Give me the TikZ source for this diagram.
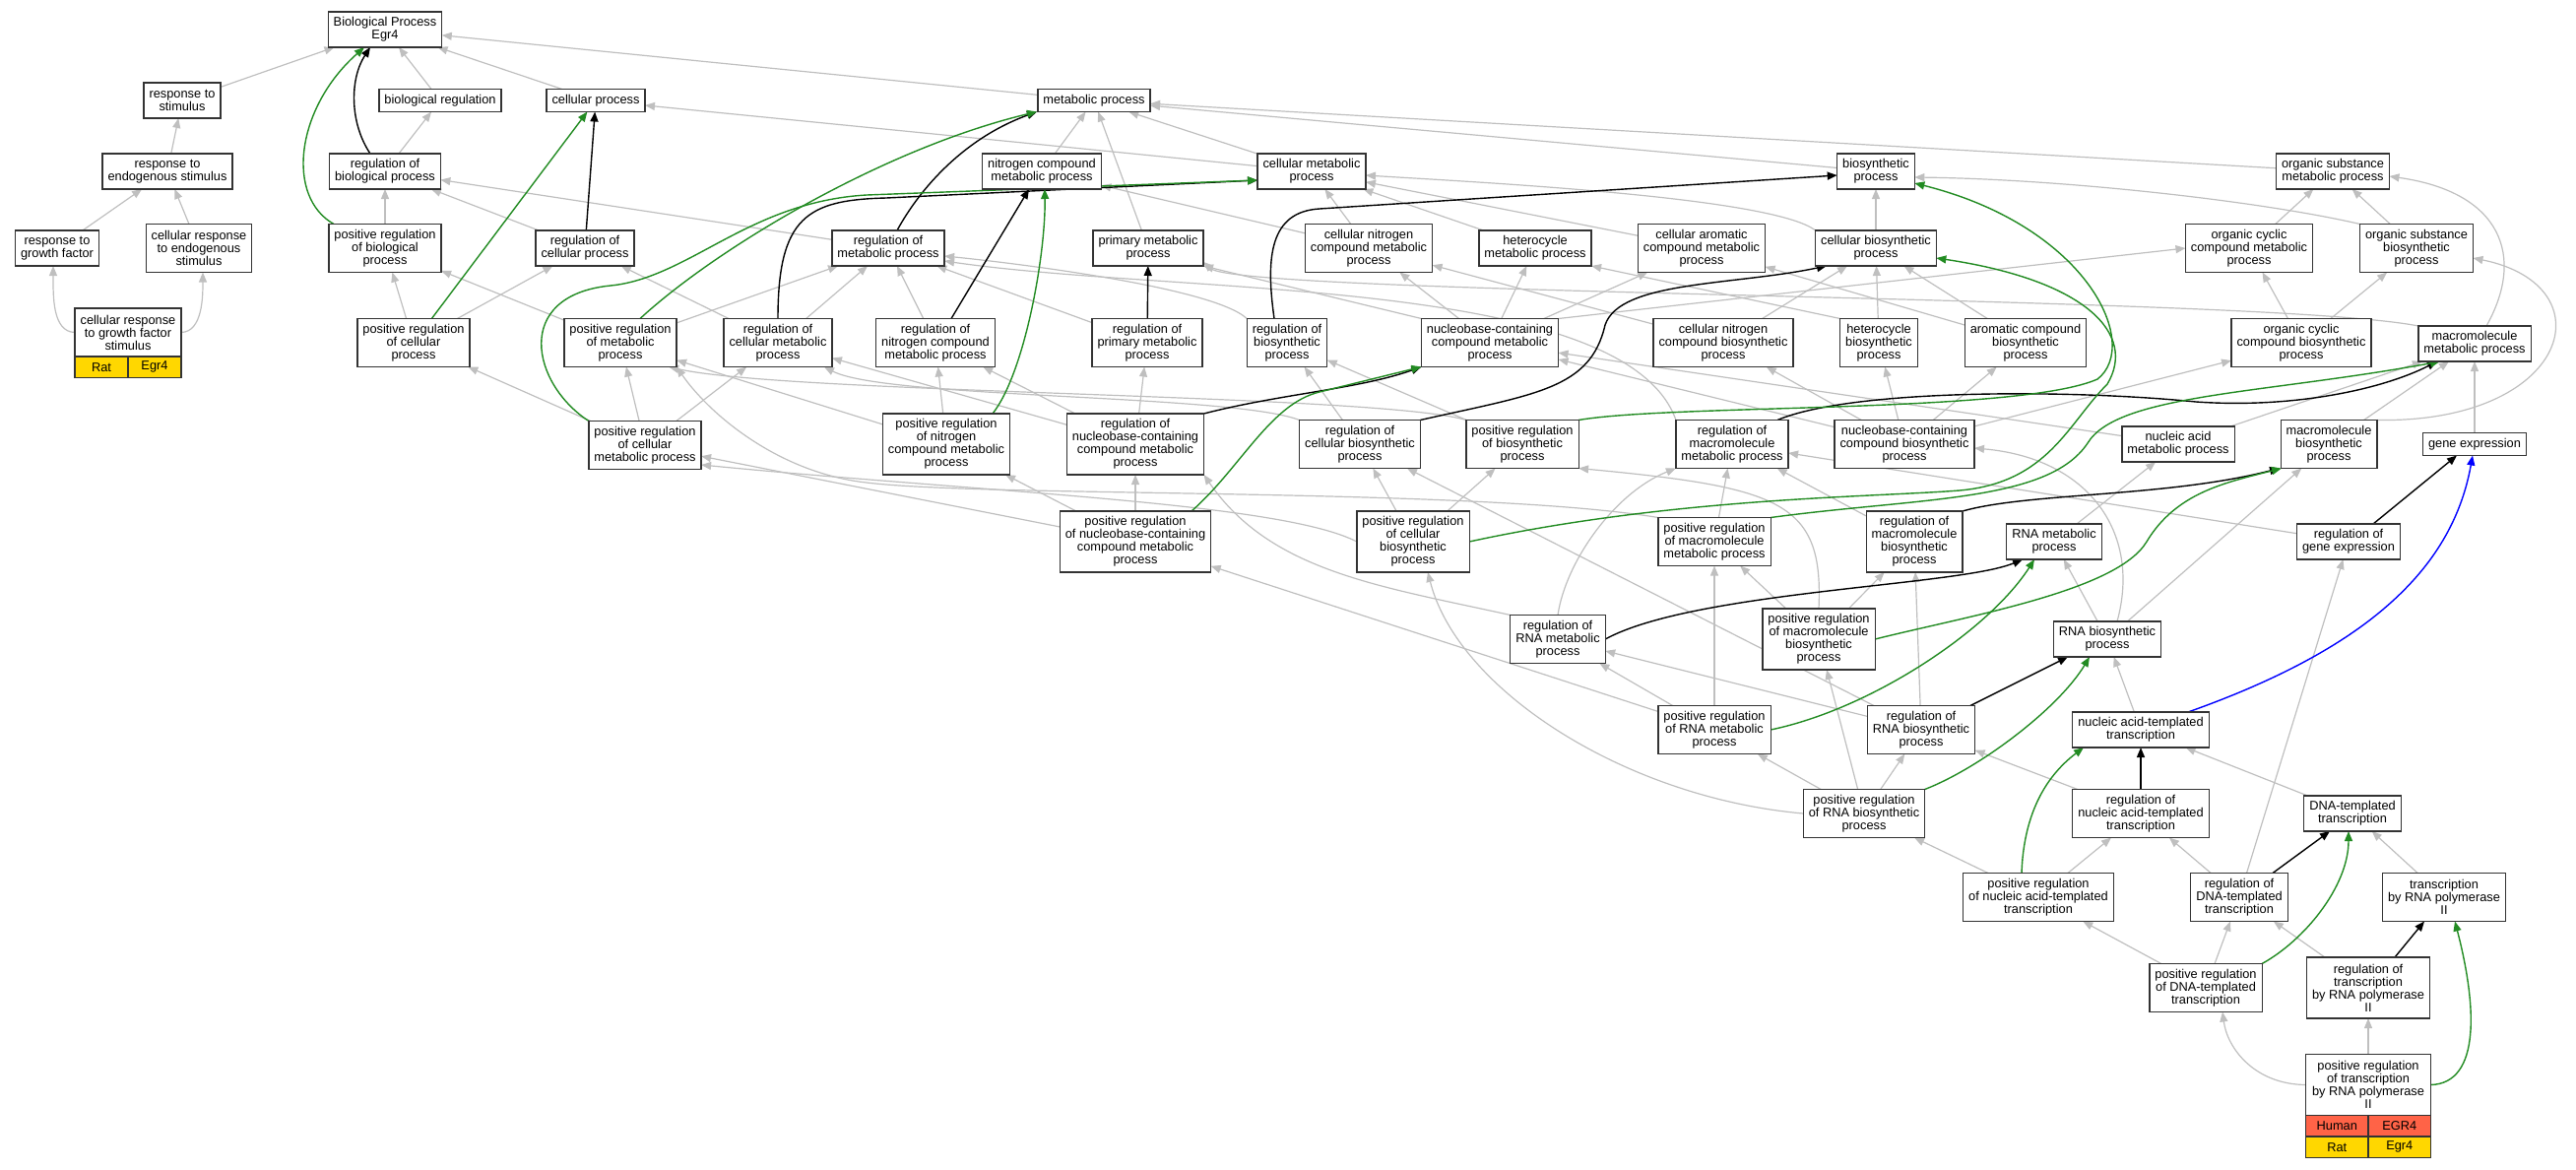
\documentclass[tikz,border=0pt]{standalone}
\usepackage{fontspec}
\setmainfont{Liberation Sans}
\usetikzlibrary{arrows.meta,backgrounds}
\definecolor{isagray}{RGB}{191,191,191}
\definecolor{posgreen}{RGB}{34,139,34}
\definecolor{ratgold}{RGB}{255,215,0}
\definecolor{humanred}{RGB}{255,99,71}
\newcommand{\termfont}{\fontsize{12.8}{13}\selectfont}

\begin{document}
\begin{tikzpicture}[x=1pt,y=-1pt,
  term/.style={draw=black!80,line width=1.2pt,fill=white,align=center,inner xsep=5.5pt,inner ysep=1pt,outer sep=0pt,font=\termfont},
  oneline/.style={term,minimum height=23pt},
  twoline/.style={term,minimum height=36pt},
  threeline/.style={term,minimum height=49pt},
  fourline/.style={term,minimum height=62pt},
  cell/.style={draw=black!80,line width=1.2pt,minimum height=21.5pt,inner sep=0pt,outer sep=0pt,font=\termfont},
  isa/.style={isagray,line width=1.2pt,-{Triangle[length=10pt,width=8pt]}},
  reg/.style={black,line width=1.4pt,-{Triangle[length=10pt,width=8pt]}},
  posreg/.style={posgreen,line width=1.4pt,-{Triangle[length=10pt,width=8pt]}},
  partof/.style={blue,line width=1.4pt,-{Triangle[length=10pt,width=8pt]}}]
\useasboundingbox (0,0) rectangle (2616,1187);
\node[twoline] (bp) at (391,30) {Biological Process\\Egr4};
\node[twoline] (rstim) at (185,102) {response to\\stimulus};
\node[oneline] (bioreg) at (447,102) {biological regulation};
\node[oneline] (cellp) at (605,102) {cellular process};
\node[oneline] (metp) at (1111,102) {metabolic process};
\node[twoline] (rendo) at (170,174) {response to\\endogenous stimulus};
\node[twoline] (regbp) at (391,174) {regulation of\\biological process};
\node[twoline] (ncmp) at (1058,174) {nitrogen compound\\metabolic process};
\node[twoline] (cmp) at (1332,174) {cellular metabolic\\process};
\node[twoline] (bsp) at (1905,174) {biosynthetic\\process};
\node[twoline] (osmp) at (2369,174) {organic substance\\metabolic process};
\node[twoline] (rgf) at (58,252) {response to\\growth factor};
\node[threeline] (credo) at (202,252) {cellular response\\to endogenous\\stimulus};
\node[threeline] (posbp) at (391,252) {positive regulation\\of biological\\process};
\node[twoline] (regcp) at (594,252) {regulation of\\cellular process};
\node[twoline] (regmp) at (902,252) {regulation of\\metabolic process};
\node[twoline] (pmp) at (1166,252) {primary metabolic\\process};
\node[threeline] (cncmp) at (1390,252) {cellular nitrogen\\compound metabolic\\process};
\node[twoline] (hmp) at (1559,252) {heterocycle\\metabolic process};
\node[threeline] (camp) at (1728,252) {cellular aromatic\\compound metabolic\\process};
\node[twoline] (cbsp) at (1905,252) {cellular biosynthetic\\process};
\node[threeline] (occmp) at (2284,252) {organic cyclic\\compound metabolic\\process};
\node[threeline] (osbsp) at (2454,252) {organic substance\\biosynthetic\\process};
\node[threeline,minimum width=108pt] (crgf) at (130,337.5) {cellular response\\to growth factor\\stimulus};
\node[cell,fill=ratgold,minimum width=54pt,anchor=north east] (crgfsp) at (crgf.south) {Rat};
\node[cell,fill=ratgold,minimum width=54pt,anchor=north west] (crgfgn) at (crgf.south) {Egr4};
\node[threeline] (poscp) at (420,348) {positive regulation\\of cellular\\process};
\node[threeline] (posmp) at (630,348) {positive regulation\\of metabolic\\process};
\node[threeline] (regcmp) at (790,348) {regulation of\\cellular metabolic\\process};
\node[threeline] (regncmp) at (950,348) {regulation of\\nitrogen compound\\metabolic process};
\node[threeline] (regpmp) at (1165,348) {regulation of\\primary metabolic\\process};
\node[threeline] (regbsp) at (1307,348) {regulation of\\biosynthetic\\process};
\node[threeline] (nbcmp) at (1513,348) {nucleobase-containing\\compound metabolic\\process};
\node[threeline] (cncbsp) at (1750,348) {cellular nitrogen\\compound biosynthetic\\process};
\node[threeline] (hbsp) at (1908,348) {heterocycle\\biosynthetic\\process};
\node[threeline] (acbsp) at (2057,348) {aromatic compound\\biosynthetic\\process};
\node[threeline] (occbsp) at (2337,348) {organic cyclic\\compound biosynthetic\\process};
\node[twoline] (macmp) at (2513,349) {macromolecule\\metabolic process};
\node[threeline] (poscmp) at (655,452) {positive regulation\\of cellular\\metabolic process};
\node[fourline] (posncmp) at (961,451) {positive regulation\\of nitrogen\\compound metabolic\\process};
\node[fourline] (regnbcmp) at (1153,451) {regulation of\\nucleobase-containing\\compound metabolic\\process};
\node[threeline] (regcbsp) at (1381,451) {regulation of\\cellular biosynthetic\\process};
\node[threeline] (posbsp) at (1546,451) {positive regulation\\of biosynthetic\\process};
\node[threeline] (regmmp) at (1759,451) {regulation of\\macromolecule\\metabolic process};
\node[threeline] (nbcbsp) at (1934,451) {nucleobase-containing\\compound biosynthetic\\process};
\node[twoline] (namp) at (2212,451) {nucleic acid\\metabolic process};
\node[threeline] (mbsp) at (2365,451) {macromolecule\\biosynthetic\\process};
\node[oneline] (gexp) at (2513,451) {gene expression};
\node[fourline] (posnbcmp) at (1153,550) {positive regulation\\of nucleobase-containing\\compound metabolic\\process};
\node[fourline] (poscbsp) at (1435,550) {positive regulation\\of cellular\\biosynthetic\\process};
\node[threeline] (posmmp) at (1741,550) {positive regulation\\of macromolecule\\metabolic process};
\node[fourline] (regmbsp) at (1944,550) {regulation of\\macromolecule\\biosynthetic\\process};
\node[twoline] (rmp) at (2086,550) {RNA metabolic\\process};
\node[twoline] (reggexp) at (2385,550) {regulation of\\gene expression};
\node[threeline] (regrmp) at (1582,649) {regulation of\\RNA metabolic\\process};
\node[fourline] (posmbsp) at (1847,649) {positive regulation\\of macromolecule\\biosynthetic\\process};
\node[twoline] (rbsp) at (2140,649) {RNA biosynthetic\\process};
\node[threeline] (posrmp) at (1741,741) {positive regulation\\of RNA metabolic\\process};
\node[threeline] (regrbsp) at (1951,741) {regulation of\\RNA biosynthetic\\process};
\node[twoline] (natt) at (2174,741) {nucleic acid-templated\\transcription};
\node[threeline] (posrbsp) at (1893,826) {positive regulation\\of RNA biosynthetic\\process};
\node[threeline] (regnatt) at (2174,826) {regulation of\\nucleic acid-templated\\transcription};
\node[twoline] (dtt) at (2389,826) {DNA-templated\\transcription};
\node[threeline] (posnatt) at (2070,911) {positive regulation\\of nucleic acid-templated\\transcription};
\node[threeline] (regdtt) at (2274,911) {regulation of\\DNA-templated\\transcription};
\node[threeline] (trp2) at (2482,911) {transcription\\by RNA polymerase\\II};
\node[threeline] (posdtt) at (2240,1003) {positive regulation\\of DNA-templated\\transcription};
\node[fourline] (regtrp2) at (2405,1003) {regulation of\\transcription\\by RNA polymerase\\II};
\node[fourline,minimum width=127pt] (postrp2) at (2405,1101.5) {positive regulation\\of transcription\\by RNA polymerase\\II};
\node[cell,fill=humanred,minimum width=63.5pt,anchor=north east] (postrp2hs) at (postrp2.south) {Human};
\node[cell,fill=humanred,minimum width=63.5pt,anchor=north west] (postrp2hg) at (postrp2.south) {EGR4};
\node[cell,fill=ratgold,minimum width=63.5pt,anchor=north east] (postrp2rs) at (postrp2hs.south east) {Rat};
\node[cell,fill=ratgold,minimum width=63.5pt,anchor=north west] (postrp2rg) at (postrp2hg.south west) {Egr4};
\begin{scope}[on background layer]
\draw[isa] (rstim) -- (bp);
\draw[isa] (bioreg) -- (bp);
\draw[isa] (cellp) -- (bp);
\draw[isa] (metp) -- (bp);
\draw[isa] (rendo) -- (rstim);
\draw[isa] (rgf) -- (rendo);
\draw[isa] (credo) -- (rendo);
\draw[isa] (crgf.west) .. controls (53,337) and (54,300) .. ([xshift=-4pt]rgf.south);
\draw[isa] (crgf.east) .. controls (206,337) and (206,300) .. ([xshift=4pt]credo.south);
\draw[isa] (regbp) -- (bioreg);
\draw[isa] (posbp) -- (regbp);
\draw[isa] (regcp) -- (regbp);
\draw[isa] (regmp) -- (regbp);
\draw[isa] (poscp) -- (posbp);
\draw[isa] (posmp) -- (posbp);
\draw[isa] (poscp) -- (regcp);
\draw[isa] (regcmp) -- (regcp);
\draw[isa] (cmp) -- (cellp);
\draw[isa] (ncmp) -- (metp);
\draw[isa] (pmp) -- (metp);
\draw[isa] (cmp) -- (metp);
\draw[isa] (bsp) -- (metp);
\draw[isa] (osmp) -- (metp);
\draw[isa] (posmp) -- (regmp);
\draw[isa] (regcmp) -- (regmp);
\draw[isa] (regncmp) -- (regmp);
\draw[isa] (regpmp) -- (regmp);
\draw[isa] (regbsp.north west) .. controls (1230,290) and (1010,265) .. ([yshift=-8pt]regmp.east);
\draw[isa] (regmmp.north west) .. controls (1650,280) and (1200,300) .. ([yshift=-13pt]regmp.east);
\draw[isa] (poscmp) -- (poscp);
\draw[isa] (poscmp) -- (posmp);
\draw[isa] (poscmp) -- (regcmp);
\draw[isa] (posncmp) -- (regncmp);
\draw[isa] (posncmp) -- (posmp);
\draw[isa] (posnbcmp) -- (regnbcmp);
\draw[isa] (posnbcmp) -- (posncmp);
\draw[isa] (posnbcmp) -- (poscmp);
\draw[isa] (regnbcmp) -- (regcmp);
\draw[isa] (regnbcmp) -- (regncmp);
\draw[isa] (regnbcmp) -- (regpmp);
\draw[isa] (regcbsp) -- (regbsp);
\draw[isa] (regcbsp.north west) .. controls (1250,400) and (900,405) .. ([xshift=-8pt]regcmp.south east);
\draw[isa] (posbsp) -- (regbsp);
\draw[isa] (posbsp.north west) .. controls (1400,400) and (800,400) .. ([xshift=-8pt]posmp.south east);
\draw[isa] (poscbsp) -- (regcbsp);
\draw[isa] (poscbsp) -- (posbsp);
\draw[isa] (poscbsp.west) .. controls (1300,510) and (1000,500) .. ([yshift=-20pt]poscmp.east);
\draw[isa] (posmmp) -- (regmmp);
\draw[isa] (posmmp.north west) .. controls (1500,495) and (1000,505) .. (880,490) .. controls (790,480) and (720,420) .. (posmp.south east);
\draw[isa] (regmbsp) -- (regmmp);
\draw[isa] (posmbsp) -- (posmmp);
\draw[isa] (posmbsp) -- (regmbsp);
\draw[isa] (posmbsp.north) .. controls (1852,510) and (1810,495) .. (posbsp.south east);
\draw[isa] (regrmp.north west) .. controls (1400,595) and (1290,580) .. (regnbcmp.south east);
\draw[isa] (regrmp.north) .. controls (1590,570) and (1640,500) .. (regmmp.south west);
\draw[isa] (posrmp) -- (regrmp);
\draw[isa] (posrmp) -- (posmmp);
\draw[isa] (posrmp) -- (posnbcmp);
\draw[isa] (regrbsp) -- (regrmp);
\draw[isa] (regrbsp) -- (regmbsp);
\draw[isa] (regrbsp) -- (regcbsp);
\draw[isa] (posrbsp) -- (posrmp);
\draw[isa] (posrbsp) -- (regrbsp);
\draw[isa] (posrbsp) -- (posmbsp);
\draw[isa] (posrbsp.west) .. controls (1650,810) and (1480,700) .. ([xshift=15pt]poscbsp.south);
\draw[isa] (regnatt) -- (regrbsp);
\draw[isa] (posnatt) -- (posrbsp);
\draw[isa] (posnatt) -- (regnatt);
\draw[isa] (regdtt) -- (regnatt);
\draw[isa] (regdtt) -- (reggexp);
\draw[isa] (posdtt) -- (posnatt);
\draw[isa] (posdtt) -- (regdtt);
\draw[isa] (regtrp2) -- (regdtt);
\draw[isa] (postrp2.west) .. controls (2290,1101) and (2262,1065) .. ([xshift=17pt]posdtt.south);
\draw[isa] (postrp2) -- (regtrp2);
\draw[isa] (trp2) -- (dtt);
\draw[isa] (dtt) -- (natt);
\draw[isa] (natt) -- (rbsp);
\draw[isa] (rbsp) -- (rmp);
\draw[isa] (rbsp) -- (mbsp);
\draw[isa] ([xshift=10pt]rbsp.north) .. controls (2175,540) and (2120,465) .. ([yshift=-4pt]nbcbsp.east);
\draw[isa] (rmp) -- (namp);
\draw[isa] (namp) -- (nbcmp);
\draw[isa] (namp) -- (macmp);
\draw[isa] (mbsp) -- (macmp);
\draw[isa] (mbsp.north east) .. controls (2610,430) and (2650,290) .. ([yshift=-10pt]osbsp.east);
\draw[isa] (gexp) -- (macmp);
\draw[isa] ([xshift=12pt]macmp.north) .. controls (2565,260) and (2540,195) .. ([yshift=-5pt]osmp.east);
\draw[isa] (macmp.north west) .. controls (2300,300) and (1260,300) .. ([yshift=-14pt]pmp.east);
\draw[isa] (nbcbsp) -- (nbcmp);
\draw[isa] (nbcbsp) -- (cncbsp);
\draw[isa] (nbcbsp) -- (hbsp);
\draw[isa] (nbcbsp) -- (acbsp);
\draw[isa] (nbcbsp) -- (occbsp);
\draw[isa] (nbcmp.north west) -- (pmp.south east);
\draw[isa] (nbcmp) -- (cncmp);
\draw[isa] (nbcmp) -- (hmp);
\draw[isa] (nbcmp) -- (camp);
\draw[isa] (nbcmp.north east) -- (occmp.west);
\draw[isa] (cncbsp) -- (cncmp);
\draw[isa] (cncbsp) -- (cbsp);
\draw[isa] (hbsp.north west) -- (hmp.south east);
\draw[isa] (hbsp) -- (cbsp);
\draw[isa] (acbsp) -- (camp);
\draw[isa] (acbsp) -- (cbsp);
\draw[isa] (occbsp) -- (occmp);
\draw[isa] (occbsp) -- (osbsp);
\draw[isa] (cncmp) -- (cmp);
\draw[isa] (cncmp) -- (ncmp);
\draw[isa] (hmp) -- (cmp);
\draw[isa] (camp) -- (cmp);
\draw[isa] (cbsp.north west) .. controls (1800,200) and (1500,185) .. ([yshift=-4pt]cmp.east);
\draw[isa] (cbsp) -- (bsp);
\draw[isa] (occmp) -- (osmp);
\draw[isa] (osbsp) -- (osmp);
\draw[isa] (osbsp.north west) .. controls (2300,205) and (2100,182) .. ([yshift=-6pt]bsp.east);
\draw[isa] (reggexp) -- (regmmp);
\draw[reg] ([xshift=-15pt]regbp.north) .. controls (355,125) and (355,80) .. ([xshift=-15pt]bp.south);
\draw[reg] (regcp) -- (cellp);
\draw[reg] ([xshift=9pt]regmp.north) .. controls (935,190) and (980,140) .. ([xshift=-58pt]metp.south);
\draw[reg] ([xshift=16pt]regncmp.north) -- ([xshift=-13pt]ncmp.south);
\draw[reg] (regcmp.north) .. controls (790,220) and (820,203) .. (900,201) -- ([yshift=-9pt]cmp.west);
\draw[reg] (regpmp) -- (pmp);
\draw[reg] ([xshift=-13pt]regbsp.north) .. controls (1285,260) and (1290,215) .. (1340,212) -- ([yshift=-4pt]bsp.west);
\draw[reg] (regnbcmp.north east) .. controls (1300,400) and (1380,395) .. (nbcmp.south west);
\draw[reg] (regcbsp.north east) .. controls (1560,400) and (1615,395) .. (1630,330) .. controls (1645,285) and (1760,290) .. ([xshift=-50pt]cbsp.south);
\draw[reg] ([xshift=46pt]regmmp.north) .. controls (1880,395) and (2100,395) .. (2230,408) .. controls (2330,415) and (2420,395) .. ([xshift=-38pt]macmp.south);
\draw[reg] (regmbsp.north east) .. controls (2060,500) and (2200,505) .. ([xshift=-50pt]mbsp.south);
\draw[reg] (regrmp.east) .. controls (1720,600) and (1990,595) .. ([xshift=-32pt]rmp.south);
\draw[reg] ([xshift=50pt]regrbsp.north) -- ([xshift=-40pt]rbsp.south);
\draw[reg] (regnatt) -- (natt);
\draw[reg] ([xshift=34pt]regdtt.north) -- ([xshift=-23pt]dtt.south);
\draw[reg] ([xshift=27pt]regtrp2.north) -- ([xshift=-20pt]trp2.south);
\draw[reg] ([xshift=25pt]reggexp.north) -- ([xshift=-18pt]gexp.south);
\draw[posreg] ([xshift=-52pt]posbp.north) .. controls (290,200) and (300,110) .. ([xshift=-21pt]bp.south);
\draw[posreg] (poscp) -- (cellp);
\draw[posreg] ([xshift=20pt]posmp.north) .. controls (730,250) and (900,150) .. ([xshift=-58pt]metp.south);
\draw[posreg] ([xshift=47pt]posncmp.north) .. controls (1040,380) and (1062,260) .. ([xshift=3pt]ncmp.south);
\draw[posreg] (poscmp.north west) .. controls (540,390) and (520,300) .. (620,290) .. controls (700,282) and (760,205) .. (880,198) -- ([yshift=-9pt]cmp.west);
\draw[posreg] ([xshift=57pt]posnbcmp.north) .. controls (1260,475) and (1290,410) .. (1340,398) -- (nbcmp.south west);
\draw[posreg] (posbsp.north east) .. controls (1700,410) and (2050,420) .. (2130,385) .. controls (2175,350) and (2120,230) .. ([yshift=-12pt]bsp.east);
\draw[posreg] (poscbsp.east) .. controls (1700,505) and (1900,505) .. (1990,498) .. controls (2080,490) and (2100,430) .. (2140,390) .. controls (2170,340) and (2120,285) .. ([yshift=-10pt]cbsp.east);
\draw[posreg] (posmmp.north east) .. controls (1950,505) and (2080,510) .. (2120,450) .. controls (2150,400) and (2300,400) .. ([xshift=-35pt]macmp.south);
\draw[posreg] (posmbsp.east) .. controls (2000,625) and (2150,600) .. (2180,550) .. controls (2210,500) and (2260,490) .. ([xshift=-48pt]mbsp.south);
\draw[posreg] (posrmp.east) .. controls (1900,720) and (2020,640) .. ([xshift=-20pt]rmp.south);
\draw[posreg] (posrbsp.north east) .. controls (2010,780) and (2090,720) .. ([xshift=-18pt]rbsp.south);
\draw[posreg] ([xshift=-17pt]posnatt.north) .. controls (2055,830) and (2075,790) .. ([xshift=-58pt]natt.south);
\draw[posreg] (posdtt.north east) .. controls (2340,955) and (2385,900) .. ([xshift=-4pt]dtt.south);
\draw[posreg] (postrp2.east) .. controls (2520,1100) and (2515,1020) .. ([xshift=11pt]trp2.south);
\draw[partof] ([xshift=48pt]natt.north) .. controls (2400,660) and (2490,580) .. ([xshift=-2pt]gexp.south);
\end{scope}
\end{tikzpicture}
\end{document}
